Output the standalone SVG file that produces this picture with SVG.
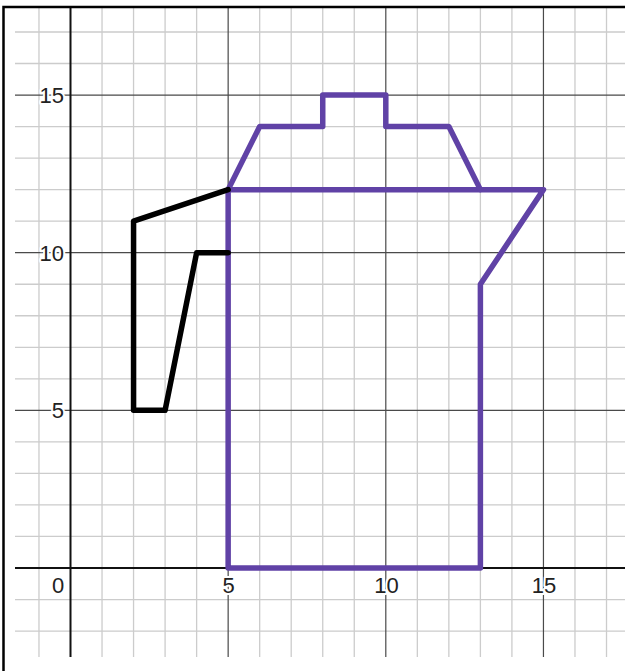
<svg xmlns="http://www.w3.org/2000/svg" width="625" height="671" viewBox="0 0 625 671">
<style>
.minor{stroke:#cccccc;stroke-width:1.3;fill:none}
.major{stroke:#4a4a4a;stroke-width:1.2;fill:none}
.axis{stroke:#111;stroke-width:2;fill:none}
.lbl{font-family:"Liberation Sans",Arial,sans-serif;font-size:22px;fill:#222;stroke:#fff;stroke-width:4;paint-order:stroke;stroke-linejoin:round}
.purple{stroke:#6042a6;stroke-width:5.5;fill:none;stroke-linejoin:round;stroke-linecap:round}
.black{stroke:#000;stroke-width:5.5;fill:none;stroke-linejoin:round;stroke-linecap:round}
</style>
<rect width="625" height="671" fill="#fff"/>
<g id="grid-minor" class="minor">
<path d="M38.97,7V657M102.03,7V657M133.56,7V657M165.09,7V657M196.62,7V657M259.68,7V657M291.21,7V657M322.74,7V657M354.27,7V657M417.33,7V657M448.86,7V657M480.39,7V657M511.92,7V657M574.98,7V657M606.51,7V657"/>
<path d="M15,631.06H625M15,599.53H625M15,536.47H625M15,504.94H625M15,473.41H625M15,441.88H625M15,378.82H625M15,347.29H625M15,315.76H625M15,284.23H625M15,221.17H625M15,189.64H625M15,158.11H625M15,126.58H625M15,63.52H625M15,31.99H625"/>
</g>
<g id="grid-major" class="major">
<path d="M228.15,7V657M385.8,7V657M543.45,7V657M15,410.35H625M15,252.7H625M15,95.05H625"/>
</g>
<g id="axes" class="axis">
<path d="M70.5,7V657M15,568H625"/>
</g>
<g id="labels" class="lbl">
<text x="64" y="102.8" text-anchor="end">15</text>
<text x="64" y="260.5" text-anchor="end">10</text>
<text x="64" y="418" text-anchor="end">5</text>
<text x="58" y="592.5" text-anchor="middle">0</text>
<text x="228.5" y="592.5" text-anchor="middle">5</text>
<text x="386.5" y="592.5" text-anchor="middle">10</text>
<text x="544" y="592.5" text-anchor="middle">15</text>
</g>
<g id="pitcher-body">
<path class="purple" d="M228.15,189.64V568H480.39V284.23L543.45,189.64Z"/>
</g>
<g id="pitcher-lid">
<path class="purple" d="M228.15,189.64L259.68,126.58H322.74V95.05H385.8V126.58H448.86L480.39,189.64"/>
</g>
<g id="pitcher-handle">
<path class="black" d="M228.15,189.64L133.56,221.17V410.35H165.09L196.62,252.7H228.15"/>
</g>
<g id="frame">
<path d="M3.5,671V7H625" stroke="#000" stroke-width="2.5" fill="none"/>
</g>
</svg>
